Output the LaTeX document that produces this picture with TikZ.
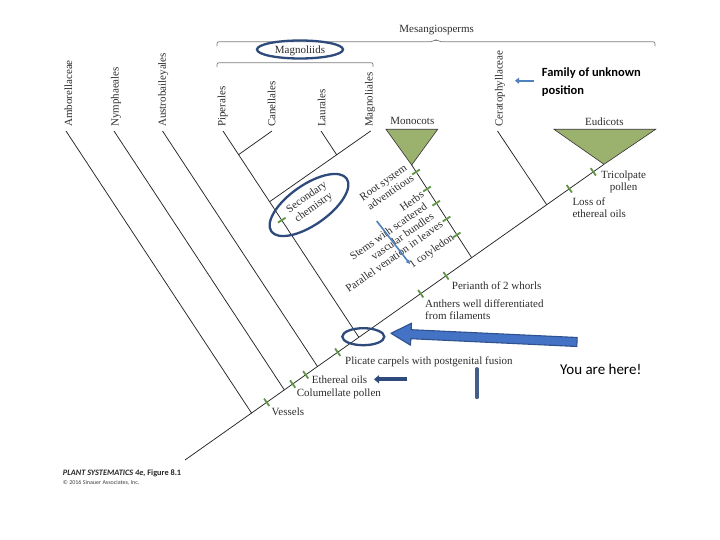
\documentclass[tikz,border=0pt]{standalone}
\usepackage{fontspec}
\setmainfont{Liberation Serif}
\newfontfamily\calib{Carlito}
\usetikzlibrary{arrows.meta}
\definecolor{tickgreen}{RGB}{96,150,70}
\definecolor{trigreen}{RGB}{155,177,110}
\definecolor{txtgray}{RGB}{45,45,45}
\definecolor{brkgray}{RGB}{125,125,125}
\definecolor{circblue}{RGB}{47,75,124}
\definecolor{arrowfill}{RGB}{68,114,196}
\definecolor{arrowdraw}{RGB}{47,82,143}
\definecolor{steel}{RGB}{79,129,189}
\newcommand{\bbtick}[1]{\draw[tk] (#1) ++(-2.6,-3.7) -- ++(5.2,7.4);}
\newcommand{\mmtick}[1]{\draw[tk] (#1) ++(-3.8,2.45) -- ++(7.6,-4.9);}
\begin{document}
\begin{tikzpicture}[x=1pt,y=-1pt,
  br/.style={line width=0.75pt, draw=black!85},
  tk/.style={draw=tickgreen, line width=1.8pt},
  lab/.style={font=\fontsize{11}{12}\selectfont, inner sep=0pt, text=txtgray},
  tax/.style={lab, rotate=90, anchor=west},
  rlab/.style={lab, rotate=35, align=right, anchor=east},
  tri/.style={fill=trigreen, draw=black!80, line width=0.6pt},
  brk/.style={draw=brkgray, line width=0.7pt, rounded corners=2pt},
  circ/.style={draw=circblue, line width=2.3pt},
]
\fill[white] (0,0) rectangle (720,540);
\useasboundingbox (0,0) rectangle (720,540);

% ---- coordinates
\coordinate (b0) at (185,460);
\coordinate (bEud) at (604,164.3);
\coordinate (jAmb) at (251.7,413.3);
\coordinate (jNym) at (284.4,390);
\coordinate (jAus) at (317.5,366.5);
\coordinate (jMag) at (358.8,337.2);
\coordinate (jMon) at (471.7,257.7);
\coordinate (jCer) at (546.7,204.7);
\coordinate (tAmb) at (66,131);
\coordinate (tNym) at (114,131);
\coordinate (tAus) at (162.5,131);
\coordinate (tPip) at (223,131);
\coordinate (tCan) at (272,131);
\coordinate (tLau) at (321,131);
\coordinate (tMgl) at (370.7,131);
\coordinate (tCer) at (497.5,131);
\coordinate (jPC) at (238.5,154.7);
\coordinate (jLM) at (336.8,155);
\coordinate (jMM) at (269.9,201.5);
\coordinate (tMon) at (411.7,165);

% ---- brackets
\draw[brk] (217,46.5) -- (217,41.7) -- (433,41.7) -- (436,39.2) -- (439,41.7) -- (655,41.7) -- (655,46.5);
\draw[brk] (217,67) -- (217,62.7) -- (373,62.7) -- (373,67);
\node[lab] (mes) at (436.7,30) {Mesangiosperms};
\node[lab] (magl) at (300,50.5) {Magnoliids};
\draw[circ] (300,49.5) ellipse [x radius=43, y radius=9];

% ---- taxon labels
\node[tax] (nAmb) at (68.3,127) {Amborellaceae};
\node[tax] (nNym) at (116,127) {Nymphaeales};
\node[tax] (nAus) at (163.3,127) {Austrobaileyales};
\node[tax] (nPip) at (222.7,127) {Piperales};
\node[tax] (nCan) at (271.7,127) {Canellales};
\node[tax] (nLau) at (321.7,127) {Laurales};
\node[tax] (nMgl) at (370,127) {Magnoliales};
\node[tax] (nCer) at (500,127) {Ceratophyllaceae};

% ---- tree
\draw[br] (b0) -- (bEud);
\draw[br] (tAmb) -- (jAmb);
\draw[br] (tNym) -- (jNym);
\draw[br] (tAus) -- (jAus);
\draw[br] (tPip) -- (jMag);
\draw[br] (tCan) -- (jPC);
\draw[br] (tLau) -- (jLM);
\draw[br] (tMgl) -- (jMM);
\draw[br] (tMon) -- (jMon);
\draw[br] (tCer) -- (jCer);
\draw[tri] (386,129.3) -- (437.7,129.3) -- (tMon) -- cycle;
\draw[tri] (554,129.3) -- (655.7,129.3) -- (bEud) -- cycle;
\node[lab] (nMon) at (412.3,121) {Monocots};
\node[lab] (nEud) at (604.3,121.7) {Eudicots};

% ---- ticks on backbone
\coordinate (kVes) at (266.7,402.3);
\coordinate (kCol) at (292.7,384.0);
\coordinate (kEth) at (305.7,374.8);
\coordinate (kPli) at (337.7,352.2);
\coordinate (kAnt) at (420.7,293.7);
\coordinate (kPer) at (446,275.8);
\coordinate (kLos) at (569.3,188.8);
\coordinate (kTri) at (593.3,171.9);
\foreach \k in {kVes,kCol,kEth,kPli,kAnt,kPer,kLos,kTri} {\bbtick{\k}}
% ---- ticks on monocot stem and magnoliid stem
\coordinate (mRoo) at (416,172);
\coordinate (mHer) at (427,189);
\coordinate (mSte) at (436.2,203.2);
\coordinate (mPar) at (446.5,219);
\coordinate (mCot) at (456.7,235);
\coordinate (mSec) at (281.7,220.2);
\foreach \k in {mRoo,mHer,mSte,mPar,mCot,mSec} {\mmtick{\k}}

% ---- character labels
\node[lab, anchor=west] (lVes) at (271.5,411.7) {Vessels};
\node[lab, anchor=west] (lCol) at (296.7,394) {Columellate pollen};
\node[lab, anchor=west] (lEth) at (311.7,380) {Ethereal oils};
\node[lab, anchor=west] (lPli) at (345,361.7) {Plicate carpels with postgenital fusion};
\node[lab, anchor=west, align=left] (lAnt) at (425,309.5) {Anthers well differentiated\\from filaments};
\node[lab, anchor=west] (lPer) at (451.7,285.7) {Perianth of 2 whorls};
\node[lab, anchor=west, align=left] (lLos) at (572.3,207.5) {Loss of\\ethereal oils};
\node[lab, anchor=west, align=center] (lTri) at (601,182) {Tricolpate\\pollen};

\node[rlab] (lRoo) at (409.2,171.7) {Root system\\adventitious};
\node[rlab] (lHer) at (422.7,193.3) {Herbs};
\node[rlab] (lSte) at (429.2,210) {Stems with scattered\\vascular bundles};
\node[rlab] (lPar) at (441.7,223.3) {Parallel venation in leaves};
\node[rlab] (lCot) at (453.3,236.7) {1 cotyledon};
\node[lab, rotate=35, align=center] (lSec) at (310.4,202.5) {Secondary\\chemistry};
\draw[circ, rotate around={35:(309,205)}] (309,205) ellipse [x radius=46, y radius=20];

% ---- annotations
\draw[circ] (363.3,336.7) ellipse [x radius=21, y radius=8.5];
\draw[fill=arrowfill, draw=arrowdraw, line width=1.1pt, line join=round]
  (391,333.3) -- (411.5,323.2) -- (411.2,329.7) -- (577.2,337.5) -- (576.8,346.5)
  -- (410.8,338.7) -- (410.5,345.2) -- cycle;
\node[font=\calib\fontsize{15}{17}\selectfont, anchor=west, inner sep=0pt] (here) at (560,369.3) {You are here!};
\node[font=\calib\bfseries\fontsize{12.5}{17.7}\selectfont, anchor=west, align=left, inner sep=0pt] (fam) at (541.7,82) {Family of unknown\\position};
\coordinate (fa0) at (533.5,80.7);
\coordinate (fa1) at (515,80.7);
\draw[steel, line width=2pt, -{Triangle[length=4pt,width=6pt]}] (fa0) -- (fa1);
\coordinate (ea0) at (407,379.3);
\coordinate (ea1) at (374,379.3);
\draw[circblue, line width=4pt, -{Triangle[length=5pt,width=8pt]}] (ea0) -- (ea1);
\coordinate (va0) at (476.7,397.3);
\coordinate (va1) at (476.7,369);
\draw[circblue!90, line width=3.8pt, line cap=round] (va0) -- (va1);
\coordinate (sa0) at (376.7,221);
\coordinate (sa1) at (410,264);
\draw[steel, line width=1.6pt, -{Triangle[length=4pt,width=4pt]}] (sa0) -- (sa1);

% ---- footer
\node[font=\calib\bfseries\fontsize{8.3}{9}\selectfont, anchor=west, inner sep=0pt, text=black!85] (cap1) at (62.7,473.3) {\itshape PLANT SYSTEMATICS 4e, \upshape Figure 8.1};
\node[font=\calib\fontsize{6}{7}\selectfont, anchor=west, inner sep=0pt, text=black!75] (cap2) at (62.7,482.7) {© 2016 Sinauer Associates, Inc.};
\end{tikzpicture}
\end{document}
